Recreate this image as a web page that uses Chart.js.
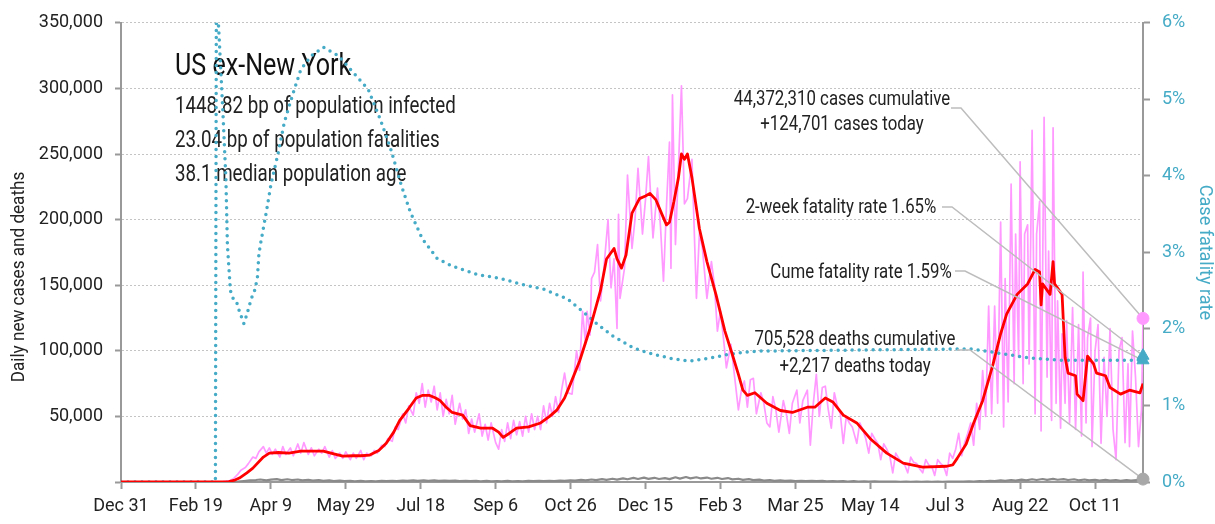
<!DOCTYPE html>
<html>
<head>
<meta charset="utf-8">
<script src="https://cdn.jsdelivr.net/npm/chart.js@4.4.0/dist/chart.umd.min.js"></script>
<style>
  body { margin: 0; background: #fff; }
  #wrap { width: 1215px; height: 524px; }
</style>
</head>
<body>
<div id="wrap"><canvas id="covidChart" width="1215" height="524"></canvas></div>
<script>
// days counted from Dec 31, 2019
const lastDay = 682;
const tickLabels = ['Dec 31', 'Feb 19', 'Apr 9', 'May 29', 'Jul 18', 'Sep 6', 'Oct 26',
  'Dec 15', 'Feb 3', 'Mar 25', 'May 14', 'Jul 3', 'Aug 22', 'Oct 11'];

const headline = 'US ex-New York';
const infoLines = ['1448.82 bp of population infected', '23.04 bp of population fatalities', '38.1 median population age'];

const casesCumulative = 44372310;
const casesToday = 124701;
const deathsCumulative = 705528;
const deathsToday = 2217;
const twoWeekRate = 1.65;
const cumeRate = 1.59;

// [day, daily new cases]
const dailyCases = [
  [0,0],[40,0],[60,50],[68,300],[72,800],[75,2500],[78,6000],[80,9000],[83,11000],[85,14000],[88,19000],[90,18000],
  [92,23000],[95,27000],[97,22000],[99,26000],[101,21000],[103,25000],[106,19000],[108,27000],[110,21000],[113,26000],
  [115,20000],[118,29000],[120,22000],[122,30000],[125,21000],[127,26000],[129,20000],[132,25000],[134,22000],[136,27000],
  [139,19000],[141,24000],[143,18000],[146,22000],[148,18000],[150,23000],[153,17000],[155,22000],[157,18000],[160,24000],
  [162,17000],[164,22000],[167,20000],[169,24000],[171,22000],[174,28000],[176,27000],[178,33000],[181,31000],[183,42000],
  [185,40000],[188,52000],[190,45000],[192,58000],[195,51000],[197,68000],[199,60000],[201,75000],[203,57000],[205,70000],
  [207,61000],[209,73000],[211,55000],[213,68000],[215,50000],[217,63000],[219,52000],[221,66000],[223,44000],[226,60000],
  [228,48000],[230,55000],[232,37000],[234,48000],[236,38000],[239,52000],[241,35000],[243,44000],[245,32000],[247,45000],
  [250,30000],[252,25000],[254,40000],[256,31000],[258,45000],[260,33000],[262,47000],[264,36000],[266,46000],[268,35000],
  [270,50000],[272,38000],[274,52000],[276,40000],[278,50000],[280,40000],[282,58000],[284,45000],[286,60000],[288,50000],
  [290,65000],[292,53000],[294,70000],[296,83000],[298,68000],[301,67000],[304,100000],[306,85000],[308,130000],[310,105000],
  [311,130000],[313,112000],[314,155000],[316,160000],[318,181000],[320,138000],[322,160000],[325,200000],[327,148000],
  [329,170000],[331,117000],[332,204000],[333,140000],[336,163000],[338,234000],[341,178000],[343,200000],[345,239000],
  [348,189000],[350,215000],[352,248000],[355,186000],[358,224000],[360,195000],[362,153000],[364,210000],[366,259000],
  [367,163000],[368,295000],[370,181000],[372,240000],[374,302000],[376,212000],[378,216000],[381,246000],[384,140000],
  [386,190000],[388,178000],[391,140000],[394,168000],[396,150000],[398,115000],[400,130000],[402,110000],[404,87000],
  [407,105000],[410,75000],[412,55000],[414,70000],[416,77000],[418,57000],[420,78000],[422,79000],[424,52000],[427,68000],
  [429,60000],[431,45000],[433,42000],[435,65000],[437,55000],[439,38000],[442,62000],[444,52000],[446,37000],[448,60000],
  [451,70000],[453,45000],[455,62000],[458,70000],[460,28000],[462,60000],[464,82000],[466,50000],[468,72000],[470,73000],
  [472,55000],[474,41000],[476,68000],[478,58000],[480,52000],[482,29500],[484,50000],[486,45000],[488,42000],[491,29500],
  [493,45000],[495,40000],[497,33000],[499,22000],[501,37000],[503,33000],[505,29500],[507,17000],[509,29000],[511,25000],
  [513,20000],[515,7000],[517,22000],[519,18000],[521,15000],[523,13000],[525,7000],[527,19000],[529,15000],[531,14000],
  [533,10000],[535,7000],[537,17000],[539,13000],[541,12000],[543,5000],[545,17000],[547,14000],[549,12000],[551,5000],
  [553,22000],[555,18000],[557,25000],[559,37000],[561,20000],[563,30000],[565,37000],[567,45000],[569,28000],[571,60000],
  [573,40000],[575,85000],[577,50000],[579,134000],[581,52000],[583,134000],[585,60000],[587,198000],[589,42000],[590,155000],
  [592,61000],[594,227000],[596,75000],[597,189000],[599,95000],[600,244000],[602,75000],[603,189000],[605,196000],[606,90000],
  [608,268000],[610,52000],[611,189000],[613,214000],[614,39000],[616,278000],[618,80000],[619,176000],[621,47000],[622,270000],
  [624,60000],[625,138000],[627,41000],[628,113000],[630,60000],[631,123000],[633,45000],[635,133000],[637,40000],[639,120000],
  [641,35000],[642,160000],[644,45000],[645,110000],[647,125000],[648,27000],[650,100000],[652,120000],[654,29500],[656,95000],
  [658,50000],[660,117000],[662,40000],[664,17000],[666,100000],[668,110000],[670,30000],[672,90000],[673,27000],[675,115000],
  [677,80000],[679,27000],[681,55000],[682,124701]
];

// [day, 7-day average cases]
const avgCases = [
  [0,0],[68,0],[72,300],[76,1500],[79,3000],[84,7000],[88,10600],[95,19000],[99,22000],[105,22500],[112,22000],[120,23500],
  [128,23500],[135,23500],[142,21500],[148,19700],[155,20000],[160,20000],[166,20500],[172,24000],[177,29500],[182,38000],
  [186,47000],[192,56000],[197,64000],[201,66000],[206,66000],[210,64000],[213,62000],[217,57000],[221,53000],[228,51000],
  [233,43000],[240,41000],[248,41000],[252,38000],[255,34000],[259,37000],[264,41000],[272,42000],[280,45000],[286,50000],
  [291,55000],[296,64000],[300,75000],[306,92000],[313,117000],[320,146000],[324,170000],[329,178000],[331,170000],
  [334,163000],[337,173000],[341,205000],[346,216000],[350,218000],[353,220000],[357,215000],[361,204000],[364,196000],
  [366,198000],[369,214000],[372,232000],[374,250000],[376,246000],[378,250000],[381,232000],[386,193000],[391,168000],
  [397,143000],[403,115000],[408,97000],[412,82000],[415,70000],[418,66000],[423,68000],[431,60000],[440,54500],[448,53000],
  [458,57000],[463,57000],[470,64000],[475,61000],[482,51000],[491,45000],[500,33000],[511,22000],[522,14400],[535,11400],
  [551,12000],[555,13000],[558,18000],[564,29000],[569,45000],[575,62000],[582,90000],[587,113000],[591,128000],[598,143000],
  [605,151000],[610,162000],[613,160000],[614,135000],[615,151000],[620,143000],[622,168000],[623,151000],[628,143000],
  [630,95000],[632,83000],[637,81000],[638,67000],[642,62000],[645,96000],[649,90000],[651,83000],[657,81000],[660,72000],
  [667,67000],[673,70000],[680,68000],[682,75000]
];

// [day, daily deaths]
const dailyDeaths = [
  [0,0],[60,0],[70,20],[78,300],[82,700],[86,1200],[90,1500],[93,1900],[97,1300],[100,1800],[104,2200],[107,1400],[111,2100],
  [114,1500],[118,1900],[121,1200],[125,1700],[128,1000],[132,1400],[135,900],[139,1200],[142,700],[146,1000],[149,600],
  [153,900],[156,500],[160,800],[163,500],[167,700],[170,500],[174,800],[177,600],[181,900],[184,700],[188,1100],[191,800],
  [195,1200],[198,900],[202,1300],[205,900],[209,1200],[212,800],[216,1100],[219,800],[223,1000],[226,700],[230,900],[233,600],
  [237,800],[240,500],[244,800],[247,500],[251,700],[254,500],[258,800],[261,500],[265,700],[268,500],[272,800],[275,600],
  [279,900],[282,600],[286,900],[289,700],[293,1100],[296,800],[300,1300],[303,1000],[307,1600],[310,1200],[314,1900],
  [317,1400],[321,2200],[324,1600],[328,2500],[331,1800],[335,2800],[338,2100],[342,3100],[345,2300],[349,3300],[352,2400],
  [356,3200],[359,2300],[363,3000],[366,2200],[370,3600],[373,2600],[377,3800],[380,2800],[384,3600],[387,2700],[391,3400],
  [394,2500],[398,3200],[401,2300],[405,3000],[408,2000],[412,2500],[415,1600],[419,2200],[422,1400],[426,1800],[429,1100],
  [433,1500],[436,900],[440,1200],[443,800],[447,1000],[450,700],[454,900],[457,600],[461,800],[464,600],[468,800],[471,500],
  [475,700],[478,500],[482,600],[485,400],[489,600],[492,400],[496,500],[499,300],[503,450],[506,300],[510,400],[513,250],
  [517,350],[520,200],[524,300],[527,200],[531,300],[534,150],[538,250],[541,150],[545,250],[548,200],[552,300],[555,250],
  [559,400],[562,300],[566,500],[569,400],[573,700],[576,500],[580,900],[583,700],[587,1200],[590,900],[594,1500],[597,1100],
  [601,1800],[604,1300],[608,2100],[611,1500],[615,2300],[618,1600],[622,2400],[625,1700],[629,2200],[632,1500],[636,2100],
  [639,1300],[643,1900],[646,1200],[650,1700],[653,1100],[657,1600],[660,1000],[664,1500],[667,900],[671,1400],[674,1000],
  [678,1500],[680,900],[682,2217]
];

// [day, case fatality rate %]
const fatalityRate = [
  [0,0],[63,0],[64,10],[65,6.0],[68,4.83],[70,3.96],[71,3.1],[73,2.5],[75,2.39],[77,2.36],[79,2.23],[82,2.07],[84,2.19],
  [87,2.4],[89,2.49],[91,2.66],[92,2.97],[93,3.1],[97,3.53],[100,3.88],[105,4.31],[109,4.7],[115,5.09],[120,5.39],[127,5.57],
  [135,5.68],[145,5.57],[155,5.35],[165,5.13],[173,4.74],[180,4.35],[187,3.88],[193,3.53],[201,3.18],[211,2.92],[221,2.82],
  [238,2.71],[253,2.66],[268,2.58],[282,2.52],[298,2.39],[308,2.23],[318,2.06],[328,1.91],[342,1.75],[355,1.67],[368,1.61],
  [380,1.58],[393,1.62],[406,1.67],[418,1.70],[426,1.71],[470,1.72],[520,1.73],[567,1.74],[587,1.68],[606,1.62],[627,1.59],
  [682,1.59]
];

const FONT = "Roboto, 'DejaVu Sans', sans-serif";
const TEAL = '#45abc6';
const PINK = '#ff99ff';
const fmt = n => n.toLocaleString('en-US');
const pts = arr => arr.map(p => ({ x: p[0], y: p[1] }));

Chart.defaults.font.family = FONT;
Chart.defaults.color = '#222';

const notes = [
  { lines: [fmt(casesCumulative) + ' cases cumulative', '+' + fmt(casesToday) + ' cases today'], cx: 842, base: [105, 130],
    start: [951, 108], elbow: 961, axis: 'y', value: casesToday },
  { lines: ['2-week fatality rate ' + twoWeekRate.toFixed(2) + '%'], cx: 841, base: [213],
    start: [942, 207], elbow: 952, axis: 'rate', value: twoWeekRate },
  { lines: ['Cume fatality rate ' + cumeRate.toFixed(2) + '%'], cx: 861, base: [278],
    start: [955, 271], elbow: 965, axis: 'rate', value: cumeRate },
  { lines: [fmt(deathsCumulative) + ' deaths cumulative', '+' + fmt(deathsToday) + ' deaths today'], cx: 855, base: [345, 372],
    start: [957, 350], elbow: 970, axis: 'y', value: deathsToday }
];

// condensed look: squeeze text horizontally
function narrowText(ctx, text, x, y, size, align, sx) {
  ctx.save();
  ctx.translate(x, y);
  ctx.scale(sx, 1);
  ctx.font = size + 'px ' + FONT;
  ctx.textAlign = align;
  ctx.fillText(text, 0, 0);
  ctx.restore();
}

const textLayer = {
  id: 'textLayer',
  beforeDatasetsDraw(chart) {
    const ctx = chart.ctx;
    ctx.save();
    ctx.fillStyle = '#111';
    ctx.textBaseline = 'alphabetic';
    narrowText(ctx, headline, 175, 75, 31, 'left', 0.81);
    ctx.fillStyle = '#222';
    infoLines.forEach((t, i) => narrowText(ctx, t, 175, 113 + 34 * i, 24, 'left', 0.78));
    notes.forEach(n => n.lines.forEach((t, i) => narrowText(ctx, t, n.cx, n.base[i], 21, 'center', 0.8)));

    // left axis title
    ctx.translate(19, 277);
    ctx.rotate(-Math.PI / 2);
    ctx.textBaseline = 'middle';
    narrowText(ctx, 'Daily new cases and deaths', 0, 0, 19, 'center', 0.9);
    ctx.restore();
  },
  afterDatasetDraw(chart, args) {
    if (args.index !== 1) return;
    const ctx = chart.ctx;
    const xEnd = chart.scales.x.getPixelForValue(lastDay);
    ctx.save();
    ctx.strokeStyle = '#bdbdbd';
    ctx.lineWidth = 1.5;
    notes.forEach(n => {
      ctx.beginPath();
      ctx.moveTo(n.start[0], n.start[1]);
      ctx.lineTo(n.elbow, n.start[1]);
      ctx.lineTo(xEnd, chart.scales[n.axis].getPixelForValue(n.value));
      ctx.stroke();
    });
    ctx.restore();
  }
};

const ctx = document.getElementById('covidChart').getContext('2d');
const covidChart = new Chart(ctx, {
  type: 'line',
  data: {
    datasets: [
      { label: 'Daily cases', data: pts(dailyCases), borderColor: PINK, borderWidth: 1.7, order: 4 },
      { label: '7-day average', data: pts(avgCases), borderColor: '#ff0000', borderWidth: 2.8, order: 1 },
      { label: 'Case fatality rate', data: pts(fatalityRate), yAxisID: 'rate', borderColor: TEAL, borderWidth: 3.5,
        borderDash: [0, 7], borderCapStyle: 'round', order: 2 },
      { label: 'Daily deaths', data: pts(dailyDeaths), borderColor: '#8a8a8a', borderWidth: 2.2, order: 3 },
      { label: 'cases today', data: [{ x: lastDay, y: casesToday }], showLine: false, pointRadius: 6,
        pointBackgroundColor: PINK, pointBorderColor: PINK, clip: false, order: 0 },
      { label: 'rates', data: [{ x: lastDay, y: twoWeekRate }, { x: lastDay, y: cumeRate }], yAxisID: 'rate', showLine: false,
        pointStyle: 'triangle', pointRadius: 7, pointBackgroundColor: TEAL, pointBorderColor: TEAL, clip: false, order: 0 },
      { label: 'deaths today', data: [{ x: lastDay, y: deathsToday }], showLine: false, pointRadius: 6,
        pointBackgroundColor: '#a8a8a8', pointBorderColor: '#a8a8a8', clip: false, order: 0 }
    ]
  },
  options: {
    responsive: false,
    animation: false,
    devicePixelRatio: 1,
    layout: { padding: { top: 15 } },
    elements: { point: { radius: 0 }, line: { tension: 0, borderJoinStyle: 'round' } },
    plugins: { legend: { display: false }, tooltip: { enabled: false } },
    scales: {
      x: {
        type: 'linear', min: 0, max: lastDay,
        grid: { drawOnChartArea: false, tickLength: 7, tickColor: '#999', tickWidth: 2 },
        border: { color: '#999', width: 2 },
        ticks: { stepSize: 50, includeBounds: false, autoSkip: false, maxRotation: 0, color: '#222', font: { size: 18 }, padding: 7,
          callback: v => tickLabels[v / 50] },
        afterBuildTicks: axis => { axis.ticks = axis.ticks.filter(t => t.value % 50 === 0); },
        afterFit: axis => { axis.height = 42; }
      },
      y: {
        position: 'left', min: 0, max: 350000,
        ticks: { stepSize: 50000, color: '#222', font: { size: 18 }, padding: 12,
          callback: v => v === 0 ? '' : fmt(v) },
        grid: { color: '#c4c4c4', lineWidth: 1, tickColor: '#999', tickLength: 6, tickWidth: 2 },
        border: { color: '#999', width: 2, dash: [2, 2] },
        afterFit: axis => { axis.width = 121; }
      },
      rate: {
        position: 'right', min: 0, max: 6,
        ticks: { stepSize: 1, color: TEAL, font: { size: 18 }, padding: 12, callback: v => v + '%' },
        grid: { drawOnChartArea: false, tickColor: '#999', tickLength: 7, tickWidth: 2 },
        border: { color: '#999', width: 2 },
        title: { display: true, text: 'Case fatality rate', color: TEAL, font: { size: 18 }, padding: { top: 0, bottom: 4 } },
        afterFit: axis => { axis.width = 72; }
      }
    }
  },
  plugins: [textLayer]
});
</script>
</body>
</html>
